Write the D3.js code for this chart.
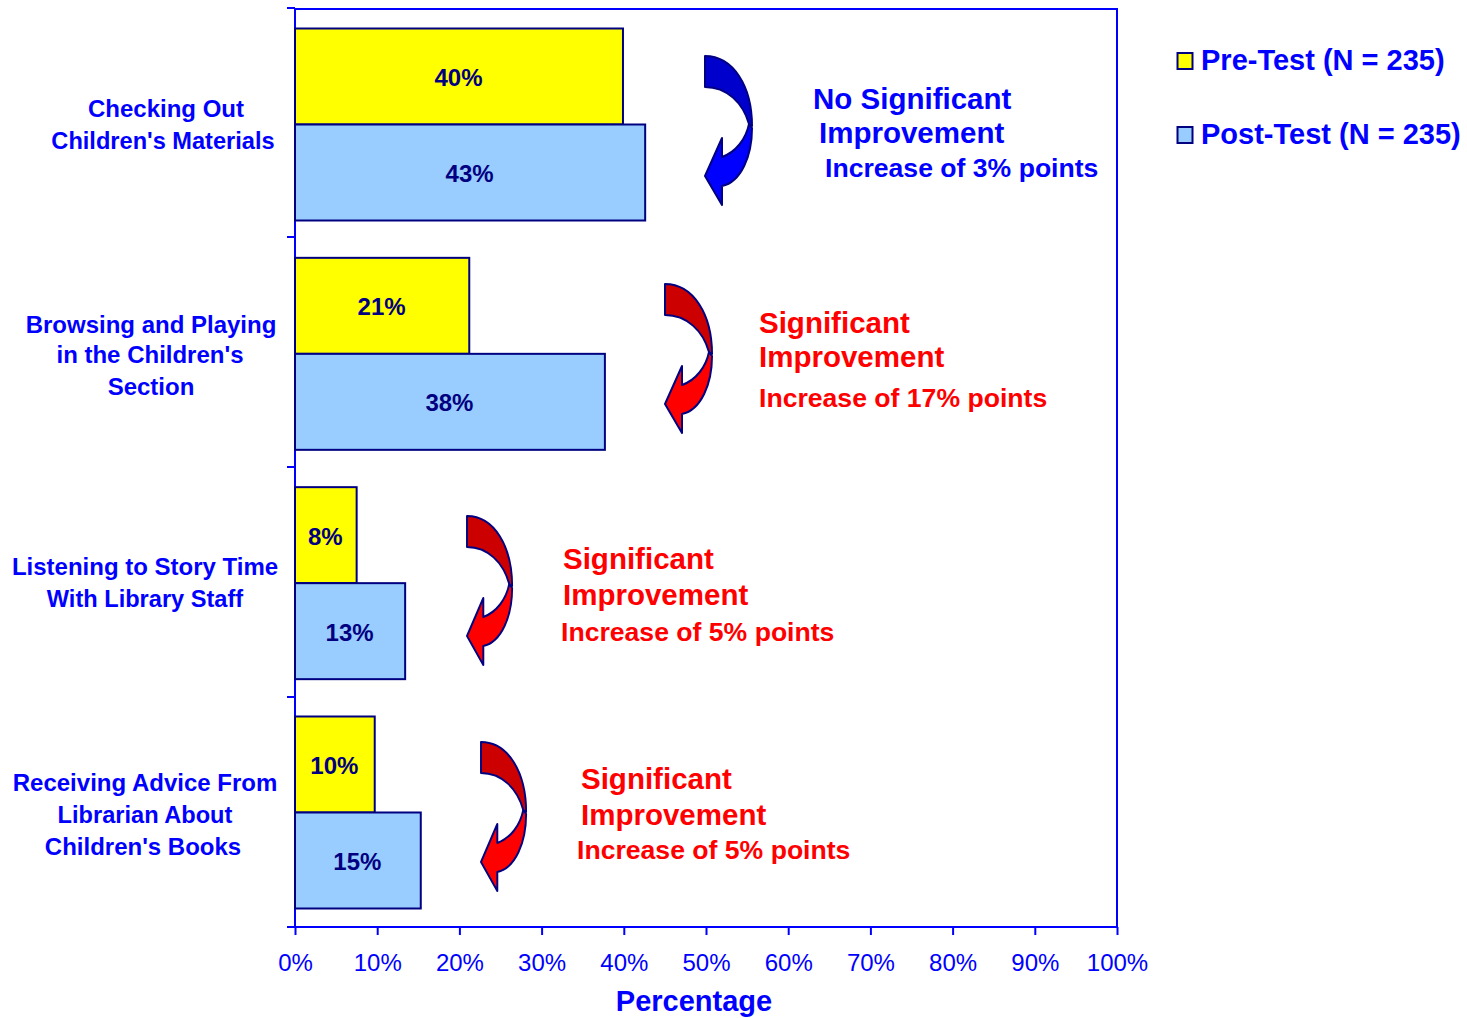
<!DOCTYPE html>
<html><head><meta charset="utf-8">
<script src="https://cdn.jsdelivr.net/npm/d3@7/dist/d3.min.js"></script>
<style>html,body{margin:0;padding:0;background:#fff}svg{display:block}text{font-family:"Liberation Sans",Arial,sans-serif}</style>
</head><body><svg id="c" width="1467" height="1018"></svg>
<script>
const categories = ["Checking Out","Browsing and Playing","Listening to Story Time","Receiving Advice From"];
const preTest = [39.9,21.2,7.5,9.7];
const postTest = [42.6,37.7,13.4,15.3];
const preLabels = ["40%","21%","8%","10%"];
const postLabels = ["43%","38%","13%","15%"];
const seriesNames = ["Pre-Test (N = 235)","Post-Test (N = 235)"];
const xTicks = [0,10,20,30,40,50,60,70,80,90,100];

const BLUE="#0000ff", NAVY="#000080";
const svg=d3.select("#c");
const x=d3.scaleLinear().domain([0,100]).range([295,1117]);
const y=d3.scaleBand().domain(categories).range([9,926.33]);
const inner=d3.scaleBand().domain([0,1]).range([19.5,211.5]);
const yTick=d3.scaleLinear().domain([0,4]).range([8,927]);

// plot frame
svg.append("rect").attr("x",295).attr("y",9).attr("width",822).attr("height",918).attr("fill","#fff").attr("stroke",BLUE).attr("stroke-width",2);

// bars
const groups=svg.selectAll("g.cat").data(categories).join("g").attr("transform",d=>`translate(0,${y(d)})`);
[[preTest,"#ffff00",preLabels],[postTest,"#99ccff",postLabels]].forEach(([vals,col,labs],s)=>{
  groups.append("rect").attr("x",x(0)).attr("y",inner(s)).attr("width",(d,i)=>x(vals[i])-x(0)).attr("height",inner.bandwidth())
    .attr("fill",col).attr("stroke",NAVY).attr("stroke-width",2);
  groups.append("text").attr("x",(d,i)=>(x(vals[i])+x(0))/2-0.5).attr("y",inner(s)+inner.bandwidth()/2+9.5)
    .attr("text-anchor","middle").attr("font-size",24).attr("font-weight","bold").attr("fill",NAVY).text((d,i)=>labs[i]);
});

// axes
const xAxis=d3.axisBottom(x).tickValues(xTicks).tickFormat(d=>d+"%").tickSize(8).tickPadding(19);
const ga=svg.append("g").attr("transform","translate(0,927)").call(xAxis);
ga.select(".domain").attr("stroke",BLUE).attr("stroke-width",2).attr("d","M295,0H1117");
ga.selectAll("line").attr("stroke",BLUE).attr("stroke-width",2);
ga.selectAll("text").attr("fill",BLUE).attr("font-size",24).attr("font-family",'"Liberation Sans",Arial,sans-serif');
svg.selectAll("line.yt").data(d3.range(0,5)).join("line").attr("class","yt")
  .attr("x1",287).attr("x2",295).attr("y1",i=>Math.floor(yTick(i))).attr("y2",i=>Math.floor(yTick(i))).attr("stroke",BLUE).attr("stroke-width",2);

function label(t,px,py,size,col,anchor){
  svg.append("text").attr("x",px).attr("y",py).attr("font-size",size).attr("font-weight","bold").attr("fill",col).attr("text-anchor",anchor||"start").text(t);
}
label("Percentage",694,1011,29,BLUE,"middle");

// category labels
[["Checking Out",166,117,24],["Children's Materials",163,149,23.6],
 ["Browsing and Playing",151,333,24],["in the Children's",150,363,24],["Section",151,395,24],
 ["Listening to Story Time",145,575,24],["With Library Staff",145,607,23.6],
 ["Receiving Advice From",145,791,24],["Librarian About",145,823,23.6],["Children's Books",143,855,24]]
 .forEach(l=>label(l[0],l[1],l[2],l[3],BLUE,"middle"));

// curved arrows
function arrow(ox,oy,sx,c1,c2){
  const g=svg.append("g").attr("transform",`translate(${ox},${oy}) scale(${sx},1)`).attr("stroke",NAVY).attr("stroke-width",2).attr("stroke-linejoin","round");
  g.append("path").attr("fill",c2).attr("d","M44,68 C41,83 31,96 17,101 L17,82 L0,120 L17,149 L17,130 C36,126 47,100 47,72 Z");
  g.append("path").attr("fill",c1).attr("d","M0,0 C28,0 47,30 47,70 L44,68 C38,47 22,31 0,31 Z");
}
arrow(705,56,1,"#0000cc","#0000ff");
arrow(665,284,1,"#cc0000","#ff0000");
arrow(467,516,0.96,"#cc0000","#ff0000");
arrow(481,742,0.96,"#cc0000","#ff0000");

// annotations
const R="#ff0000";
label("No Significant",813,109,29.5,BLUE);
label("Improvement",819,143,29.5,BLUE);
label("Increase of 3% points",825,177,26.6,BLUE);
label("Significant",759,333,29.5,R);
label("Improvement",759,367,29.5,R);
label("Increase of 17% points",759,407,26.6,R);
label("Significant",563,569,29.5,R);
label("Improvement",563,605,29.5,R);
label("Increase of 5% points",561,641,26.6,R);
label("Significant",581,789,29.5,R);
label("Improvement",581,825,29.5,R);
label("Increase of 5% points",577,859,26.6,R);

// legend
[["#ffff00",61],["#99ccff",135]].forEach(([c,cy],i)=>{
  svg.append("rect").attr("x",1177.5).attr("y",cy-8).attr("width",15).attr("height",16).attr("fill",c).attr("stroke",NAVY).attr("stroke-width",2);
  label(seriesNames[i],1201,cy+9,29,BLUE);
});
</script></body></html>
